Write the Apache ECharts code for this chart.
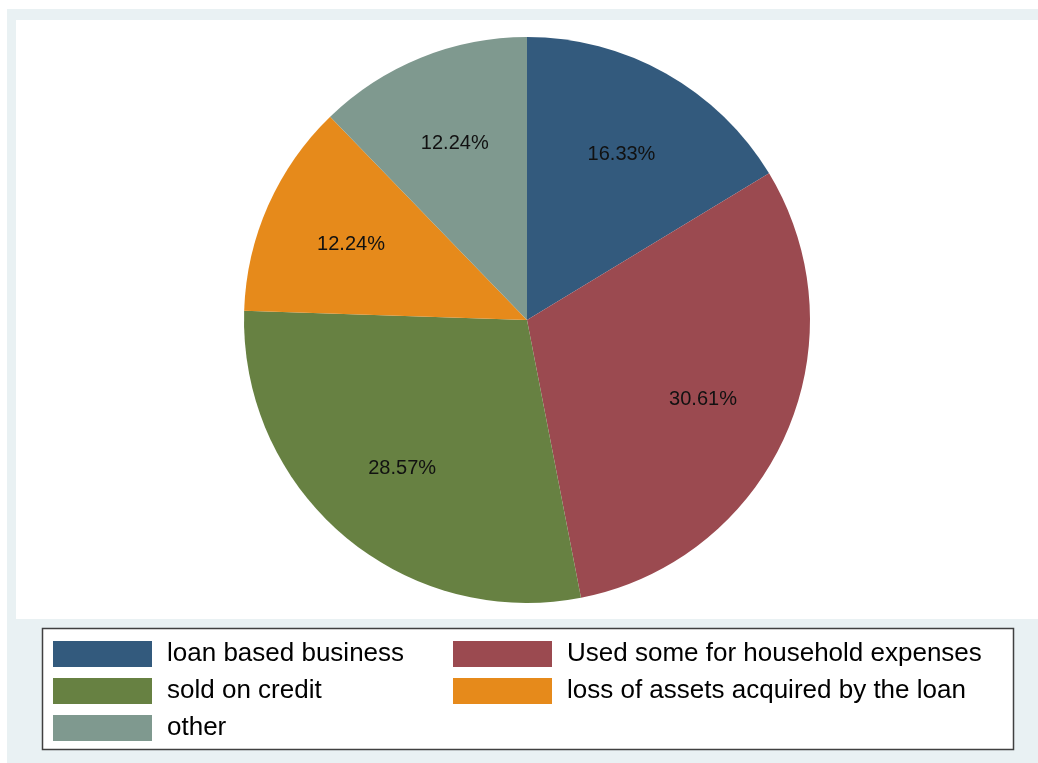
<!DOCTYPE html>
<html>
<head>
<meta charset="utf-8">
<script src="https://cdn.jsdelivr.net/npm/echarts@6/dist/echarts.min.js"></script>
<style>
  html, body { margin: 0; padding: 0; background: #ffffff; }
  #chart { width: 1038px; height: 763px; }
</style>
</head>
<body>
<div id="chart"></div>
<script>
// Share of responses (percent), clockwise from 12 o'clock
const categories = [
  'loan based business',
  'Used some for household expenses',
  'sold on credit',
  'loss of assets acquired by the loan',
  'other'
];
const shares = [16.33, 30.61, 28.57, 12.24, 12.24];
const colors = ['#335a7d', '#9b4a50', '#678142', '#e68a1b', '#7f998f'];

const leftColumn = [categories[0], categories[2], categories[4]];
const rightColumn = [categories[1], categories[3]];

const font = '"Liberation Sans", Arial, sans-serif';

const pieData = categories.map((name, i) => ({ name, value: shares[i] }));

const legendBase = {
  orient: 'vertical',
  top: 636,
  itemWidth: 99,
  itemHeight: 26,
  itemGap: 11,
  icon: 'rect',
  selectedMode: false,
  textStyle: { fontFamily: font, fontSize: 26, color: '#000', padding: [0, 0, 0, 10] }
};

const chart = echarts.init(document.getElementById('chart'));
chart.setOption({
  backgroundColor: '#ffffff',
  animation: false,
  color: colors,
  graphic: [
    { type: 'rect', z: -10, shape: { x: 7, y: 9, width: 1031, height: 754 }, style: { fill: '#e9f1f3' } },
    { type: 'rect', z: -9, shape: { x: 16, y: 20, width: 1022, height: 599 }, style: { fill: '#ffffff' } },
    { type: 'rect', z: -8, shape: { x: 42.5, y: 628.5, width: 971, height: 121 }, style: { fill: '#ffffff', stroke: '#404040', lineWidth: 1.5 } }
  ],
  legend: [
    Object.assign({ left: 48, data: leftColumn }, legendBase),
    Object.assign({ left: 448, data: rightColumn }, legendBase)
  ],
  series: [
    {
      // filled slices
      type: 'pie',
      center: [527, 320],
      radius: [0, 283],
      startAngle: 90,
      clockwise: true,
      itemStyle: { borderWidth: 0 },
      label: { show: false },
      labelLine: { show: false },
      emphasis: { disabled: true },
      data: pieData
    },
    {
      // transparent ring that places the percentage labels at two thirds of the radius
      type: 'pie',
      center: [527, 322],
      radius: [96, 283],
      startAngle: 90,
      clockwise: true,
      silent: true,
      legendHoverLink: false,
      itemStyle: { color: 'rgba(0,0,0,0)', borderWidth: 0 },
      label: {
        show: true,
        position: 'inside',
        fontFamily: font,
        fontSize: 20,
        color: '#111',
        formatter: p => p.value.toFixed(2) + '%'
      },
      labelLine: { show: false },
      emphasis: { disabled: true },
      data: pieData
    }
  ]
});
</script>
</body>
</html>
